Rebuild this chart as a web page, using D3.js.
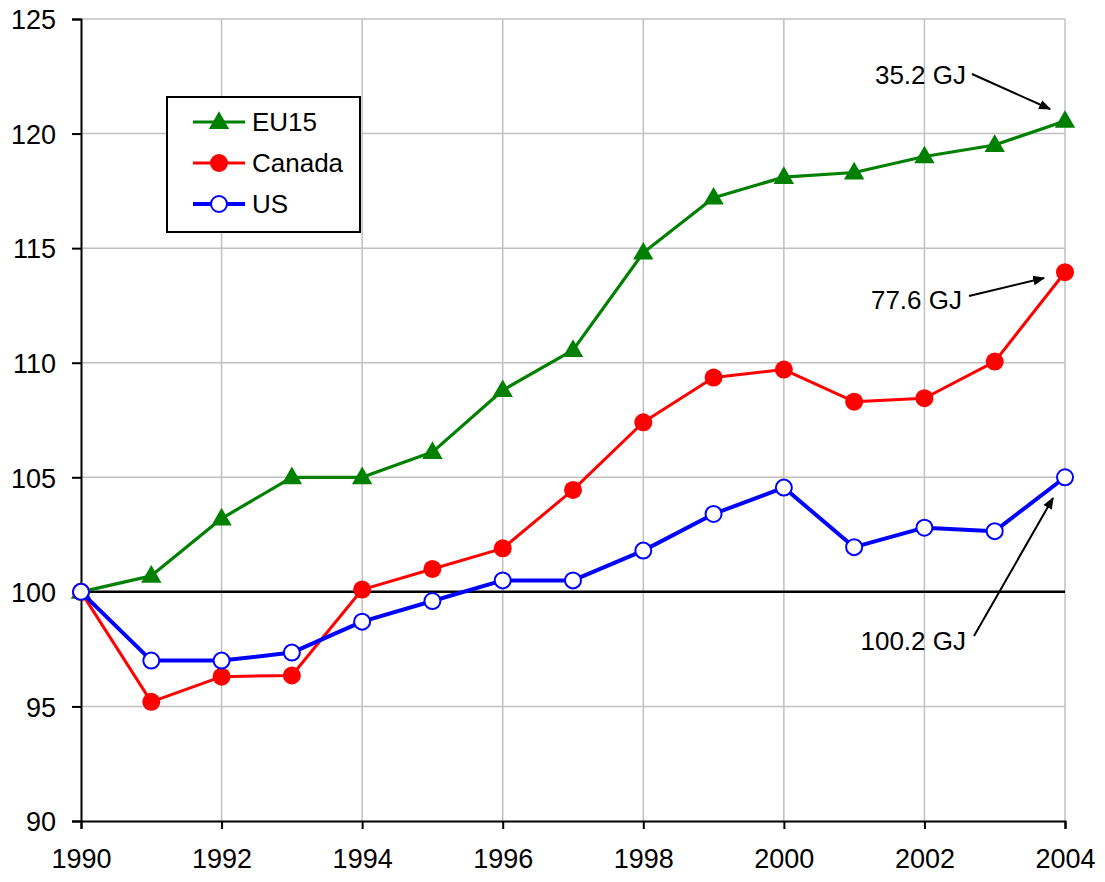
<!DOCTYPE html>
<html>
<head>
<meta charset="utf-8">
<script src="https://cdn.jsdelivr.net/npm/d3@7"></script>
<style>
  body { margin: 0; background: #fff; }
  text { font-family: "Liberation Sans", Arial, sans-serif; }
</style>
</head>
<body>
<div id="chart"></div>
<script>
// years and index values (1990 = 100)
var years = [1990, 1991, 1992, 1993, 1994, 1995, 1996, 1997, 1998, 1999, 2000, 2001, 2002, 2003, 2004];
var eu15 = [100, 100.7, 103.2, 105.0, 105.0, 106.1, 108.8, 110.55, 114.8, 117.2, 118.1, 118.3, 119.0, 119.5, 120.55];
var canada = [100, 95.2, 96.3, 96.35, 100.1, 101.0, 101.9, 104.45, 107.4, 109.35, 109.7, 108.3, 108.45, 110.05, 113.95];
var us = [100, 97.0, 97.0, 97.35, 98.7, 99.6, 100.5, 100.5, 101.8, 103.4, 104.55, 101.95, 102.8, 102.65, 105.0];
var xTicks = [1990, 1992, 1994, 1996, 1998, 2000, 2002, 2004];
var yTicks = [90, 95, 100, 105, 110, 115, 120, 125];

var series = [
  {name: "EU15", values: eu15, color: "#008000", marker: "triangle", width: 3.2},
  {name: "Canada", values: canada, color: "#ff0000", marker: "dot", width: 3},
  {name: "US", values: us, color: "#0000ff", marker: "ring", width: 4}
];

var notes = [
  {label: "35.2 GJ", tx: 966, ty: 84, ax: 972, ay: 74, bx: 1050, by: 109},
  {label: "77.6 GJ", tx: 962, ty: 309, ax: 969, ay: 296, bx: 1044, by: 278},
  {label: "100.2 GJ", tx: 966, ty: 650, ax: 974, ay: 636, bx: 1053, by: 498}
];

var W = 1105, H = 882;
var pLeft = 81, pRight = 1065, pTop = 19, pBottom = 821;

var svg = d3.select("#chart").append("svg")
  .attr("width", W).attr("height", H);

var x = d3.scaleLinear().domain([1990, 2004]).range([pLeft, pRight]);
var y = d3.scaleLinear().domain([90, 125]).range([pBottom, pTop]);

svg.append("defs").append("marker")
  .attr("id", "arrow")
  .attr("viewBox", "0 0 10 10")
  .attr("refX", 9).attr("refY", 5)
  .attr("markerWidth", 6).attr("markerHeight", 6)
  .attr("orient", "auto")
  .append("path").attr("d", "M0,1 L10,5 L0,9 z").attr("fill", "#000");

// grid
svg.append("g").selectAll("line")
  .data(yTicks.filter(function(d) { return d != 90 && d != 100; }))
  .enter().append("line")
  .attr("x1", pLeft).attr("x2", pRight)
  .attr("y1", function(d) { return y(d); }).attr("y2", function(d) { return y(d); })
  .attr("stroke", "#c0c0c0").attr("stroke-width", 1.5);

svg.append("g").selectAll("line")
  .data(xTicks.filter(function(d) { return d != 1990; }))
  .enter().append("line")
  .attr("y1", pTop).attr("y2", pBottom)
  .attr("x1", function(d) { return x(d); }).attr("x2", function(d) { return x(d); })
  .attr("stroke", "#c0c0c0").attr("stroke-width", 1.5);

// baseline at 100
svg.append("line")
  .attr("x1", pLeft).attr("x2", pRight)
  .attr("y1", y(100)).attr("y2", y(100))
  .attr("stroke", "#000").attr("stroke-width", 2.5);

// axes
var yAxis = svg.append("g")
  .attr("transform", "translate(" + pLeft + ",0)")
  .call(d3.axisLeft(y).tickValues(yTicks).tickSize(9).tickPadding(16).tickFormat(d3.format("d")));
var xAxis = svg.append("g")
  .attr("transform", "translate(0," + pBottom + ")")
  .call(d3.axisBottom(x).tickValues(xTicks).tickSize(8).tickPadding(20).tickFormat(d3.format("d")));
[xAxis, yAxis].forEach(function(a) {
  a.attr("font-size", 27).attr("font-family", "Liberation Sans, Arial, sans-serif");
  a.select(".domain").attr("stroke", "#000").attr("stroke-width", 2);
  a.selectAll(".tick line").attr("stroke", "#000").attr("stroke-width", 2);
  a.selectAll(".tick text").attr("fill", "#000");
});
yAxis.selectAll(".tick text").attr("dy", "0.36em");

var line = d3.line()
  .x(function(d, i) { return x(years[i]); })
  .y(function(d) { return y(d); });

function drawMarker(g, type, color, cx, cy) {
  if (type == "triangle") {
    g.append("path")
      .attr("d", d3.symbol().type(d3.symbolTriangle).size(180)())
      .attr("transform", "translate(" + cx + "," + (cy + 1) + ")")
      .attr("fill", color);
  } else if (type == "dot") {
    g.append("circle").attr("cx", cx).attr("cy", cy).attr("r", 9).attr("fill", color);
  } else {
    g.append("circle").attr("cx", cx).attr("cy", cy).attr("r", 8)
      .attr("fill", "#fff").attr("stroke", color).attr("stroke-width", 2);
  }
}

series.forEach(function(s) {
  var g = svg.append("g");
  g.append("path")
    .datum(s.values)
    .attr("d", line)
    .attr("fill", "none")
    .attr("stroke", s.color)
    .attr("stroke-width", s.width)
    .attr("stroke-linejoin", "round");
  s.values.forEach(function(v, i) {
    drawMarker(g, s.marker, s.color, x(years[i]), y(v));
  });
});

// legend
var lg = svg.append("g");
lg.append("rect").attr("x", 167).attr("y", 97).attr("width", 193).attr("height", 135)
  .attr("fill", "#fff").attr("stroke", "#000").attr("stroke-width", 2);
series.forEach(function(s, i) {
  var ly = 122 + i * 41;
  lg.append("line").attr("x1", 193).attr("x2", 245).attr("y1", ly).attr("y2", ly)
    .attr("stroke", s.color).attr("stroke-width", s.width);
  drawMarker(lg, s.marker, s.color, 219, ly);
  lg.append("text").attr("x", 252).attr("y", ly).attr("dy", "0.36em")
    .attr("font-size", 26).text(s.name);
});

// annotations
notes.forEach(function(n) {
  svg.append("text").attr("x", n.tx).attr("y", n.ty).attr("text-anchor", "end")
    .attr("font-size", 26).text(n.label);
  svg.append("line").attr("x1", n.ax).attr("y1", n.ay).attr("x2", n.bx).attr("y2", n.by)
    .attr("stroke", "#000").attr("stroke-width", 2).attr("marker-end", "url(#arrow)");
});
</script>
</body>
</html>
